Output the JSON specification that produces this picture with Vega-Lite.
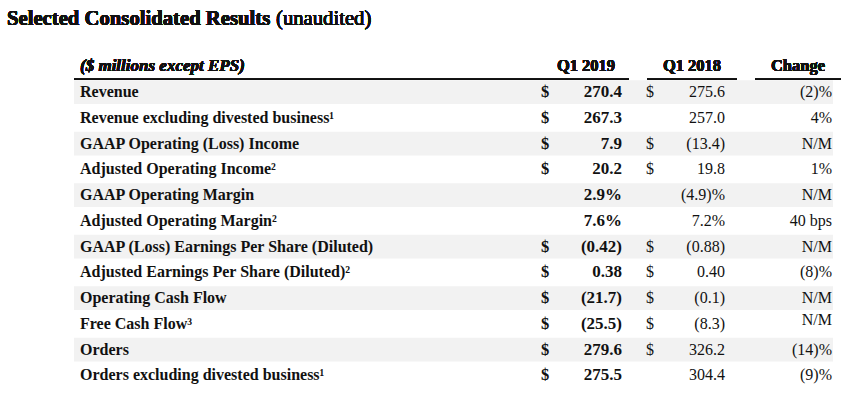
{
  "$schema": "https://vega.github.io/schema/vega-lite/v6.json",
  "width": 851,
  "height": 408,
  "padding": 0,
  "autosize": "none",
  "background": "white",
  "config": {
    "view": {"stroke": null},
    "text": {"font": "Liberation Serif", "fontSize": 16, "color": "#111111"}
  },
  "data": {
    "values": [
      {"metric": "Revenue", "cur19": "$", "q1_2019": "270.4", "cur18": "$", "q1_2018": "275.6", "change": "(2)%"},
      {"metric": "Revenue excluding divested business¹", "cur19": "$", "q1_2019": "267.3", "cur18": "", "q1_2018": "257.0", "change": "4%"},
      {"metric": "GAAP Operating (Loss) Income", "cur19": "$", "q1_2019": "7.9", "cur18": "$", "q1_2018": "(13.4)", "change": "N/M"},
      {"metric": "Adjusted Operating Income²", "cur19": "$", "q1_2019": "20.2", "cur18": "$", "q1_2018": "19.8", "change": "1%"},
      {"metric": "GAAP Operating Margin", "cur19": "", "q1_2019": "2.9%", "cur18": "", "q1_2018": "(4.9)%", "change": "N/M"},
      {"metric": "Adjusted Operating Margin²", "cur19": "", "q1_2019": "7.6%", "cur18": "", "q1_2018": "7.2%", "change": "40 bps"},
      {"metric": "GAAP (Loss) Earnings Per Share (Diluted)", "cur19": "$", "q1_2019": "(0.42)", "cur18": "$", "q1_2018": "(0.88)", "change": "N/M"},
      {"metric": "Adjusted Earnings Per Share (Diluted)²", "cur19": "$", "q1_2019": "0.38", "cur18": "$", "q1_2018": "0.40", "change": "(8)%"},
      {"metric": "Operating Cash Flow", "cur19": "$", "q1_2019": "(21.7)", "cur18": "$", "q1_2018": "(0.1)", "change": "N/M"},
      {"metric": "Free Cash Flow³", "cur19": "$", "q1_2019": "(25.5)", "cur18": "$", "q1_2018": "(8.3)", "change": "N/M"},
      {"metric": "Orders", "cur19": "$", "q1_2019": "279.6", "cur18": "$", "q1_2018": "326.2", "change": "(14)%"},
      {"metric": "Orders excluding divested business¹", "cur19": "$", "q1_2019": "275.5", "cur18": "", "q1_2018": "304.4", "change": "(9)%"}
    ]
  },
  "encoding": {
    "y": {
      "field": "metric",
      "type": "nominal",
      "axis": null,
      "sort": null,
      "scale": {
        "domain": ["title", "spacer", "header", "Revenue", "Revenue excluding divested business¹", "GAAP Operating (Loss) Income", "Adjusted Operating Income²", "GAAP Operating Margin", "Adjusted Operating Margin²", "GAAP (Loss) Earnings Per Share (Diluted)", "Adjusted Earnings Per Share (Diluted)²", "Operating Cash Flow", "Free Cash Flow³", "Orders", "Orders excluding divested business¹"],
        "range": [2, 388.25],
        "paddingInner": 0,
        "paddingOuter": 0
      }
    }
  },
  "layer": [
    {
      "transform": [{"filter": {"field": "metric", "oneOf": ["Revenue", "GAAP Operating (Loss) Income", "GAAP Operating Margin", "GAAP (Loss) Earnings Per Share (Diluted)", "Operating Cash Flow", "Orders"]}}],
      "mark": {"type": "bar", "color": "#f2f2f2", "height": {"band": 0.92}},
      "encoding": {
        "x": {"datum": 74, "type": "quantitative", "axis": null, "scale": {"domain": [0, 851], "range": [0, 851], "nice": false, "zero": false}},
        "x2": {"datum": 833}
      }
    },
    {
      "mark": {"type": "rule", "color": "#111111", "strokeWidth": 1.2},
      "encoding": {"x": {"datum": 74, "type": "quantitative"}, "x2": {"datum": 629}, "y": {"datum": "header", "bandPosition": 1}}
    },
    {
      "mark": {"type": "rule", "color": "#111111", "strokeWidth": 1.2},
      "encoding": {"x": {"datum": 647, "type": "quantitative"}, "x2": {"datum": 737}, "y": {"datum": "header", "bandPosition": 1}}
    },
    {
      "mark": {"type": "rule", "color": "#111111", "strokeWidth": 1.2},
      "encoding": {"x": {"datum": 755, "type": "quantitative"}, "x2": {"datum": 841}, "y": {"datum": "header", "bandPosition": 1}}
    },
    {
      "mark": {"type": "text", "align": "left", "fontWeight": "bold", "fontSize": 20.7, "dy": 4},
      "encoding": {"x": {"datum": 7, "type": "quantitative"}, "y": {"datum": "title"}, "text": {"value": "Selected Consolidated Results"}}
    },
    {
      "mark": {"type": "text", "align": "left", "fontSize": 20.7, "dy": 4},
      "encoding": {"x": {"datum": 276, "type": "quantitative"}, "y": {"datum": "title"}, "text": {"value": "(unaudited)"}}
    },
    {
      "mark": {"type": "text", "align": "left", "fontWeight": "bold", "fontStyle": "italic", "fontSize": 17},
      "encoding": {"x": {"datum": 80, "type": "quantitative"}, "y": {"datum": "header"}, "text": {"value": "($ millions except EPS)"}}
    },
    {
      "mark": {"type": "text", "align": "center", "fontWeight": "bold", "fontSize": 16.5},
      "encoding": {"x": {"datum": 586, "type": "quantitative"}, "y": {"datum": "header"}, "text": {"value": "Q1 2019"}}
    },
    {
      "mark": {"type": "text", "align": "center", "fontWeight": "bold", "fontSize": 16.5},
      "encoding": {"x": {"datum": 692, "type": "quantitative"}, "y": {"datum": "header"}, "text": {"value": "Q1 2018"}}
    },
    {
      "mark": {"type": "text", "align": "center", "fontWeight": "bold", "fontSize": 16.5},
      "encoding": {"x": {"datum": 798, "type": "quantitative"}, "y": {"datum": "header"}, "text": {"value": "Change"}}
    },
    {
      "mark": {"type": "text", "align": "left", "fontWeight": "bold"},
      "encoding": {"x": {"datum": 80, "type": "quantitative"}, "text": {"field": "metric"}}
    },
    {
      "mark": {"type": "text", "align": "center", "fontWeight": "bold", "fontSize": 16.5},
      "encoding": {"x": {"datum": 545, "type": "quantitative"}, "text": {"field": "cur19"}}
    },
    {
      "mark": {"type": "text", "align": "right", "fontWeight": "bold", "fontSize": 17},
      "encoding": {"x": {"datum": 622, "type": "quantitative"}, "text": {"field": "q1_2019"}}
    },
    {
      "mark": {"type": "text", "align": "center"},
      "encoding": {"x": {"datum": 650, "type": "quantitative"}, "text": {"field": "cur18"}}
    },
    {
      "mark": {"type": "text", "align": "right"},
      "encoding": {"x": {"datum": 725, "type": "quantitative"}, "text": {"field": "q1_2018"}}
    },
    {
      "transform": [{"filter": "datum.metric !== 'Free Cash Flow³'"}],
      "mark": {"type": "text", "align": "right"},
      "encoding": {"x": {"datum": 832, "type": "quantitative"}, "text": {"field": "change"}}
    },
    {
      "transform": [{"filter": "datum.metric === 'Free Cash Flow³'"}],
      "mark": {"type": "text", "align": "right", "dy": -4},
      "encoding": {"x": {"datum": 832, "type": "quantitative"}, "text": {"field": "change"}}
    }
  ]
}
